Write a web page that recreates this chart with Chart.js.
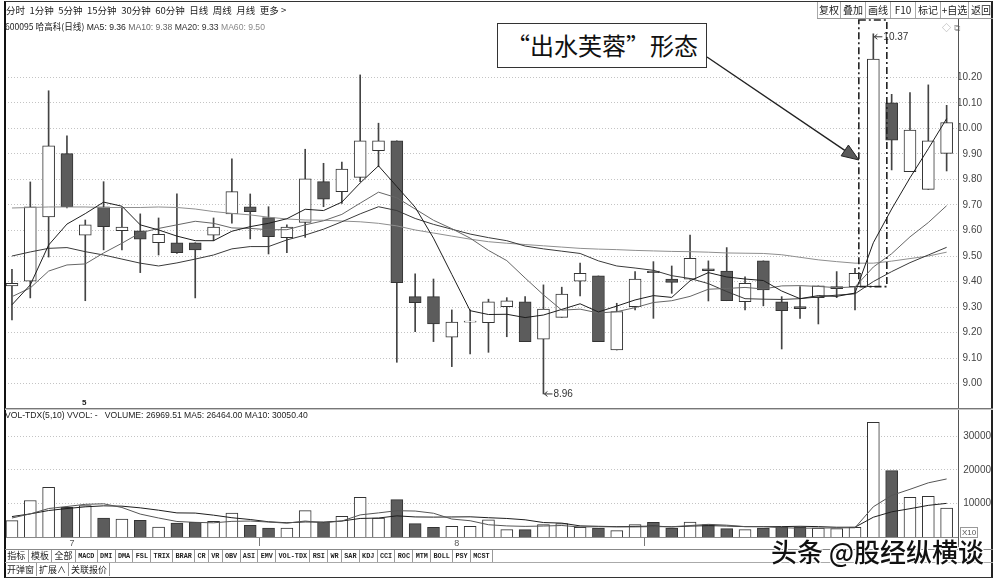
<!DOCTYPE html>
<html lang="zh-CN">
<head>
<meta charset="utf-8">
<title>600095 哈高科 日线</title>
<script src="https://cdn.jsdelivr.net/npm/chart.js@4.4.1/dist/chart.umd.min.js"></script>
<style>
  body { margin: 0; width: 998px; height: 581px; background: #fff; position: relative; overflow: hidden;
         font-family: "Liberation Sans", Arial, sans-serif; color: #222; }
  .a { position: absolute; white-space: nowrap; }
  .cjk { font-family: "Noto Sans CJK SC", sans-serif; }
  #frame { left: 4px; top: 1px; width: 989px; height: 577px; box-sizing: border-box;
           border: 1px solid #333; border-left: 2px solid #111; border-right: 2px solid #222; }
  #toolbar { left: 6px; top: 3px; display: flex; gap: 4.5px; font-size: 9.5px; line-height: 14px; color: #222; }
  #btns { left: 817px; top: 2px; height: 16px; display: flex; border-bottom: 1px solid #999; }
  #btns span { border-left: 1px solid #aaa; text-align: center; font-size: 10px; line-height: 16px; }
  .info { font-size: 8.6px; line-height: 11px; }
  .hl { position: absolute; height: 1px; }
  .vl { position: absolute; width: 1px; }
  #tabs1, #tabs2 { display: flex; }
  #tabs1 span { border-right: 1px solid #999; font-family: "Liberation Mono", monospace; font-size: 6.8px;
                font-weight: bold; line-height: 12px; padding: 0 2.3px; color: #222; }
  #tabs1 span.c { font-family: "Noto Sans CJK SC", sans-serif; font-size: 9px; font-weight: normal; }
  #tabs2 span { border-right: 1px solid #999; font-family: "Noto Sans CJK SC", sans-serif; font-size: 9px;
                line-height: 13px; padding: 0 2px; color: #222; }
  #caption { left: 497px; top: 23px; width: 210px; height: 45px; box-sizing: border-box; border: 1.5px solid #333;
             background: #fff; text-align: center; font-size: 24px; line-height: 42px; color: #111; }
  #mark { left: 771px; top: 537px; font-size: 26px; line-height: 28px; color: #111; font-weight: 500;
          text-shadow: 1px 1px 0 #fff, -1px -1px 0 #fff, 1px -1px 0 #fff, -1px 1px 0 #fff, 0 0 2px #fff; }
</style>
</head>
<body>
<canvas id="price" class="a" style="left:0;top:18px" width="998" height="390"></canvas>
<canvas id="vol" class="a" style="left:0;top:408px" width="998" height="140"></canvas>

<div id="frame" class="a"></div>

<!-- toolbar -->
<div id="toolbar" class="a cjk">
  <span>分时</span><span>1分钟</span><span>5分钟</span><span>15分钟</span><span>30分钟</span><span>60分钟</span>
  <span>日线</span><span>周线</span><span>月线</span><span>更多 &gt;</span>
</div>
<div id="btns" class="a cjk">
  <span style="width:22px">复权</span><span style="width:24px">叠加</span><span style="width:24px">画线</span>
  <span style="width:24px">F10</span><span style="width:24px">标记</span><span style="width:27px">+自选</span><span style="width:24px">返回</span>
</div>

<div class="a info" style="left:5px;top:21px"><span class="cjk">600095 哈高科(日线)</span> MA5: 9.36 <span style="color:#666">MA10: 9.38</span> <span style="color:#333">MA20: 9.33</span> <span style="color:#888">MA60: 9.50</span></div>
<div class="a" style="left:942px;top:21px;font-size:9px;color:#aaa">◇ ⧉</div>

<!-- panel rules -->
<div class="vl" style="left:958px;top:19px;height:530px;background:#555"></div>
<div class="hl" style="left:5px;top:408px;width:988px;background:#777"></div>
<div class="hl" style="left:5px;top:409px;width:988px;background:#c8c8c8"></div>
<div class="hl" style="left:5px;top:549px;width:988px;background:#888"></div>
<div class="hl" style="left:5px;top:562px;width:988px;background:#aaa"></div>

<div class="a" style="left:82px;top:398px;font-size:8px;font-weight:bold">5</div>
<div class="a info" style="left:5px;top:410px">VOL-TDX(5,10) VVOL: -&nbsp;&nbsp;&nbsp;VOLUME: 26969.51 MA5: 26464.00 MA10: 30050.40</div>
<div class="a" style="left:960px;top:527px;font-size:8px;line-height:9px;border:1px solid #999;padding:0 1px;color:#555">X10</div>

<div id="tabs1" class="a" style="left:5px;top:550px">
  <span class="c">指标</span><span class="c">模板</span><span class="c">全部</span><span>MACD</span><span>DMI</span><span>DMA</span><span>FSL</span><span>TRIX</span><span>BRAR</span><span>CR</span><span>VR</span><span>OBV</span><span>ASI</span><span>EMV</span><span>VOL-TDX</span><span>RSI</span><span>WR</span><span>SAR</span><span>KDJ</span><span>CCI</span><span>ROC</span><span>MTM</span><span>BOLL</span><span>PSY</span><span>MCST</span>
</div>
<div id="tabs2" class="a" style="left:5px;top:563px">
  <span>开弹窗</span><span>扩展∧</span><span>关联报价</span>
</div>

<div id="caption" class="a cjk">“出水芙蓉”形态</div>
<div id="mark" class="a cjk">头条 @股经纵横谈</div>

<script>
// daily candles
const openP  = [9.383, 9.402, 9.653, 9.901, 9.582, 9.693, 9.599, 9.599, 9.552, 9.552,
                9.552, 9.582, 9.665, 9.693, 9.650, 9.572, 9.632, 9.791, 9.752, 9.808,
                9.912, 9.951, 9.341, 9.341, 9.182, 9.241, 9.239, 9.302, 9.321, 9.174,
                9.260, 9.402, 9.422, 9.132, 9.302, 9.441, 9.410, 9.409, 9.450, 9.441,
                9.321, 9.481, 9.321, 9.302, 9.337, 9.372, 9.380, 9.380, 10.100, 9.830,
                9.761, 9.902];
const highP  = [9.448, 9.790, 10.147, 9.971, 9.641, 9.791, 9.692, 9.665, 9.649, 9.743,
                9.552, 9.649, 9.880, 9.743, 9.693, 9.622, 9.918, 9.863, 9.868, 10.209,
                10.020, 9.951, 9.430, 9.410, 9.289, 9.289, 9.331, 9.337, 9.341, 9.387,
                9.378, 9.472, 9.422, 9.315, 9.439, 9.478, 9.461, 9.582, 9.481, 9.533,
                9.419, 9.481, 9.341, 9.380, 9.383, 9.439, 9.452, 10.370, 10.133, 10.140,
                10.170, 10.090];
const lowP   = [9.250, 9.336, 9.496, 9.688, 9.325, 9.524, 9.524, 9.435, 9.504, 9.510,
                9.336, 9.560, 9.629, 9.567, 9.508, 9.513, 9.573, 9.693, 9.706, 9.791,
                9.850, 9.084, 9.204, 9.165, 9.067, 9.117, 9.123, 9.184, 9.165, 8.960,
                9.260, 9.344, 9.165, 9.132, 9.289, 9.256, 9.354, 9.409, 9.324, 9.325,
                9.289, 9.305, 9.136, 9.256, 9.234, 9.337, 9.289, 9.380, 9.837, 9.830,
                9.761, 9.833];
const closeP = [9.393, 9.693, 9.931, 9.693, 9.622, 9.615, 9.613, 9.566, 9.585, 9.513,
                9.524, 9.613, 9.752, 9.674, 9.576, 9.613, 9.802, 9.723, 9.840, 9.951,
                9.951, 9.396, 9.317, 9.234, 9.241, 9.241, 9.321, 9.325, 9.165, 9.292,
                9.351, 9.432, 9.165, 9.282, 9.410, 9.435, 9.397, 9.491, 9.443, 9.325,
                9.393, 9.367, 9.286, 9.294, 9.383, 9.380, 9.432, 10.271, 9.954, 9.993,
                9.951, 10.022];

// moving averages as drawn
const ma5  = [9.309, 9.387, 9.543, 9.625, 9.666, 9.711, 9.695, 9.622, 9.602, 9.578,
              9.560, 9.560, 9.597, 9.615, 9.628, 9.646, 9.683, 9.678, 9.711, 9.786,
              9.853, 9.772, 9.691, 9.570, 9.428, 9.286, 9.271, 9.272, 9.259, 9.269,
              9.291, 9.313, 9.281, 9.304, 9.328, 9.345, 9.338, 9.403, 9.435, 9.418,
              9.410, 9.404, 9.363, 9.333, 9.345, 9.342, 9.355, 9.552, 9.684, 9.806,
              9.920, 10.038];
const ma10 = [9.341, 9.375, 9.441, 9.465, 9.469, 9.512, 9.550, 9.591, 9.608, 9.622,
              9.636, 9.628, 9.610, 9.608, 9.603, 9.603, 9.622, 9.638, 9.663, 9.707,
              9.750, 9.728, 9.684, 9.640, 9.607, 9.570, 9.522, 9.482, 9.414, 9.348,
              9.288, 9.292, 9.277, 9.282, 9.298, 9.318, 9.325, 9.342, 9.370, 9.373,
              9.377, 9.371, 9.383, 9.384, 9.381, 9.376, 9.379, 9.457, 9.509, 9.575,
              9.631, 9.697];
const ma20 = [9.500, 9.516, 9.530, 9.533, 9.517, 9.504, 9.488, 9.472, 9.461, 9.473,
              9.488, 9.504, 9.528, 9.537, 9.537, 9.563, 9.582, 9.605, 9.634, 9.665,
              9.693, 9.678, 9.647, 9.624, 9.605, 9.586, 9.572, 9.560, 9.539, 9.528,
              9.519, 9.510, 9.481, 9.461, 9.453, 9.444, 9.423, 9.412, 9.392, 9.361,
              9.333, 9.331, 9.330, 9.333, 9.340, 9.347, 9.352, 9.400, 9.439, 9.474,
              9.504, 9.534];
const ma60 = [9.688, 9.690, 9.692, 9.692, 9.692, 9.690, 9.690, 9.690, 9.692, 9.690,
              9.684, 9.674, 9.667, 9.661, 9.652, 9.645, 9.641, 9.640, 9.637, 9.634,
              9.628, 9.618, 9.602, 9.590, 9.578, 9.566, 9.556, 9.550, 9.545, 9.540,
              9.535, 9.530, 9.527, 9.525, 9.522, 9.520, 9.518, 9.517, 9.515, 9.512,
              9.511, 9.510, 9.505, 9.495, 9.485, 9.478, 9.472, 9.472, 9.480, 9.490,
              9.500, 9.515];

// volume and its averages
const volume  = [4870, 10900, 14800, 8840, 9340, 5670, 5370, 4960, 2990, 4180,
                 4360, 4660, 7160, 3460, 2690, 2690, 7850, 4480, 6150, 11820,
                 5670, 11130, 3970, 2870, 3160, 3160, 5160, 2180, 2180, 3670,
                 3970, 2870, 2690, 1880, 3670, 4360, 2690, 4480, 3670, 2480,
                 2180, 2690, 2870, 2870, 2690, 2480, 2870, 34210, 19790, 11820,
                 12120, 8660];
const volMa5  = [5670, 6900, 8500, 9100, 9750, 9910, 8804, 6836, 5666, 4634,
                 4372, 4230, 4670, 4764, 4466, 4132, 4770, 4234, 4772, 6598,
                 7194, 7850, 7748, 7092, 5360, 4858, 3664, 3306, 3168, 3270,
                 3432, 2974, 3076, 3016, 3016, 3094, 3058, 3416, 3774, 3536,
                 3100, 3100, 2778, 2618, 2660, 2720, 2756, 9024, 12408, 14234,
                 16162, 17320];
const volMa10 = [6100, 6900, 7900, 8500, 9000, 9300, 9200, 8700, 8000, 7192,
                 7141, 6517, 5753, 5215, 4550, 4252, 4500, 4452, 4768, 5532,
                 5663, 6310, 5991, 5932, 5979, 6026, 5757, 5527, 5130, 4315,
                 4145, 3319, 3191, 3092, 3143, 3263, 3016, 3246, 3395, 3276,
                 3097, 3079, 3097, 3196, 3098, 2910, 2928, 5901, 7513, 8447,
                 9441, 10038];

// month marks under the volume panel
const monthLabels = ['', '', '', '7', '', '', '', '', '', '',
                     '', '', '', '', '', '', '', '', '', '',
                     '', '', '', '', '8', '', '', '', '', '',
                     '', '', '', '', '', '', '', '', '', '',
                     '', '', '', '', '', '', '', '', '', '',
                     '', ''];
const priceTicks = [9.00, 9.10, 9.20, 9.30, 9.40, 9.50, 9.60, 9.70, 9.80, 9.90, 10.00, 10.10, 10.20];
const volTicks = [10000, 20000, 30000];
const breakoutIndex = 47;

Chart.defaults.font.family = '"Liberation Sans", Arial, sans-serif';

const idx = openP.map((_, i) => i);
const isUp = idx.map(i => closeP[i] >= openP[i]);
const pts = arr => arr.map((v, i) => ({x: i, y: v}));
const xRange = {type: 'linear', offset: false, min: -0.38, max: 51.62};

function lineSet(data, color, order) {
  return {type: 'line', data: pts(data), borderColor: color, borderWidth: 1, pointRadius: 0, tension: 0, order: order};
}

// keep the plot area exactly where the layout padding puts it
function noEdgePadding(s) {
  s.paddingTop = 0; s.paddingBottom = 0; s.paddingLeft = 0; s.paddingRight = 0;
}

// high/low tags, the dash-dot frame and the caption arrow
const marksPlugin = {
  id: 'marks',
  afterDatasetsDraw(chart) {
    const {ctx, chartArea} = chart;
    const x = chart.scales.x, y = chart.scales.y;
    ctx.save();
    ctx.font = '10px "Liberation Sans", Arial, sans-serif';
    ctx.textBaseline = 'middle';
    ctx.fillStyle = '#333';
    ctx.strokeStyle = '#333';
    ctx.lineWidth = 1;
    const hi = highP.indexOf(Math.max(...highP));
    const lo = lowP.indexOf(Math.min(...lowP));
    [[hi, highP[hi], 3], [lo, lowP[lo], 0]].forEach(([i, v, dy]) => {
      const px = x.getPixelForValue(i), py = y.getPixelForValue(v) + dy;
      ctx.beginPath();
      ctx.moveTo(px + 1, py); ctx.lineTo(px + 9, py);
      ctx.moveTo(px + 4, py - 2.5); ctx.lineTo(px + 1, py); ctx.lineTo(px + 4, py + 2.5);
      ctx.stroke();
      ctx.fillText(v.toFixed(2), px + 10, py);
    });

    const cx = x.getPixelForValue(breakoutIndex);
    const left = cx - 14.5, right = cx + 13.5;
    const bottom = y.getPixelForValue(openP[breakoutIndex]);
    ctx.setLineDash([7, 3, 2, 3]);
    ctx.lineWidth = 1.6;
    ctx.strokeStyle = '#222';
    ctx.strokeRect(left, chartArea.top, right - left, bottom - chartArea.top);
    ctx.setLineDash([]);

    // arrow from the caption box (box edge is at page x 707, y 57)
    const sx = 707, sy = 57 - 18;
    const tx = left, ty = y.getPixelForValue(9.876);
    const a = Math.atan2(ty - sy, tx - sx), c = Math.cos(a), s = Math.sin(a);
    const L = 17, W = 6.5;
    ctx.lineWidth = 1.4;
    ctx.beginPath(); ctx.moveTo(sx, sy); ctx.lineTo(tx - L * c, ty - L * s); ctx.stroke();
    ctx.beginPath();
    ctx.moveTo(tx, ty);
    ctx.lineTo(tx - L * c + W * s, ty - L * s - W * c);
    ctx.lineTo(tx - L * c - W * s, ty - L * s + W * c);
    ctx.closePath();
    ctx.fillStyle = '#5a5a5a';
    ctx.fill();
    ctx.lineWidth = 1;
    ctx.stroke();
    ctx.restore();
  }
};

new Chart(document.getElementById('price'), {
  type: 'bar',
  data: {
    datasets: [
      lineSet(ma5, '#1e1e1e', 0),
      lineSet(ma10, '#666', 1),
      lineSet(ma20, '#3a3a3a', 2),
      lineSet(ma60, '#8e8e8e', 3),
      {
        data: idx.map(i => ({x: i, y: [openP[i], closeP[i]]})),
        backgroundColor: idx.map(i => isUp[i] ? '#fff' : '#5c5c5c'),
        borderColor: '#333', borderWidth: 1, borderSkipped: false,
        barThickness: 12, minBarLength: 1, grouped: false, order: 5
      },
      {
        data: idx.map(i => ({x: i, y: [lowP[i], highP[i]]})),
        backgroundColor: '#444', barThickness: 1, grouped: false, order: 6
      }
    ]
  },
  options: {
    responsive: false, animation: false,
    layout: {padding: {left: 5, right: 16, top: 2, bottom: 0}},
    plugins: {legend: {display: false}, tooltip: {enabled: false}},
    scales: {
      x: Object.assign({display: false}, xRange),
      y: {
        position: 'right', min: 8.905, max: 10.424,
        afterBuildTicks: s => { s.ticks = priceTicks.map(v => ({value: v})); },
        afterFit: s => { s.width = 24; noEdgePadding(s); },
        ticks: {callback: v => v.toFixed(2), crossAlign: 'far', padding: 0, font: {size: 10}, color: '#444'},
        grid: {color: '#c4c4c4', drawTicks: false},
        border: {display: false, dash: [1, 2]}
      }
    }
  },
  plugins: [marksPlugin]
});

new Chart(document.getElementById('vol'), {
  type: 'bar',
  data: {
    datasets: [
      lineSet(volMa5, '#555', 0),
      lineSet(volMa10, '#1e1e1e', 1),
      {
        data: pts(volume),
        backgroundColor: idx.map(i => isUp[i] ? '#fff' : '#5c5c5c'),
        borderColor: '#333', borderWidth: 1,
        barThickness: 12, grouped: false, order: 5
      }
    ]
  },
  options: {
    responsive: false, animation: false,
    layout: {padding: {left: 5, right: 7, top: 2, bottom: 0}},
    plugins: {legend: {display: false}, tooltip: {enabled: false}},
    scales: {
      x: Object.assign({
        afterBuildTicks: s => { s.ticks = monthLabels.map((l, i) => ({value: i, l})).filter(t => t.l).map(t => ({value: t.value})); },
        afterFit: s => { s.height = 11; noEdgePadding(s); },
        ticks: {callback: v => ' ' + monthLabels[v], align: 'start', padding: -8, maxRotation: 0, autoSkip: false, font: {size: 9}, color: '#555'},
        grid: {drawOnChartArea: false, tickLength: 9, tickColor: '#777'},
        border: {display: true, color: '#888'}
      }, xRange),
      y: {
        position: 'right', min: 0, max: 37900,
        afterBuildTicks: s => { s.ticks = volTicks.map(v => ({value: v})); },
        afterFit: s => { s.width = 33; noEdgePadding(s); },
        ticks: {callback: v => String(v), crossAlign: 'far', padding: 5, font: {size: 10}, color: '#444'},
        grid: {color: '#c4c4c4', drawTicks: false},
        border: {display: false, dash: [1, 2]}
      }
    }
  }
});
</script>
</body>
</html>
